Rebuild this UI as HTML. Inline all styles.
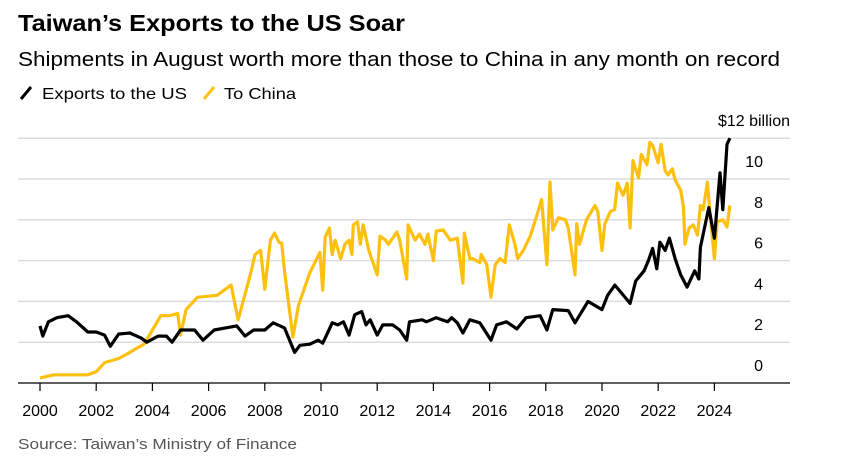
<!DOCTYPE html>
<html><head><meta charset="utf-8"><style>
body{margin:0;background:#fff;font-family:"Liberation Sans",sans-serif;}
#wrap{position:relative;width:847px;height:469px;overflow:hidden;}
</style></head><body>
<div id="wrap">
<svg id="chart" width="847" height="469" xmlns="http://www.w3.org/2000/svg">
<text x="18" y="31" font-size="23" font-weight="bold" fill="#000" textLength="387" lengthAdjust="spacingAndGlyphs">Taiwan’s Exports to the US Soar</text>
<text x="18" y="66" font-size="20" fill="#000" textLength="762" lengthAdjust="spacingAndGlyphs">Shipments in August worth more than those to China in any month on record</text>
<g>
<g><line x1="21" y1="99" x2="31" y2="87" stroke="#000" stroke-width="3"/><text x="42" y="99" font-size="16" fill="#000" textLength="145" lengthAdjust="spacingAndGlyphs">Exports to the US</text></g>
<g><line x1="204" y1="99" x2="214" y2="87" stroke="#fdc010" stroke-width="3"/><text x="224" y="99" font-size="16" fill="#000" textLength="72" lengthAdjust="spacingAndGlyphs">To China</text></g>
</g>
<g id="grid"></g>
<g id="series"></g>
<g id="xaxis"></g>
<text x="18" y="449" font-size="15" fill="#555" textLength="279" lengthAdjust="spacingAndGlyphs">Source: Taiwan’s Ministry of Finance</text>
</svg>
</div>
<script>
const yTicks = [0, 2, 4, 6, 8, 10, 12];
const xTicks = [2000, 2002, 2004, 2006, 2008, 2010, 2012, 2014, 2016, 2018, 2020, 2022, 2024];
const usDates = [2000.0,2000.1,2000.3,2000.6,2001.0,2001.3,2001.7,2002.0,2002.3,2002.5,2002.8,2003.2,2003.6,2003.8,2004.2,2004.5,2004.7,2005.0,2005.5,2005.8,2006.2,2006.6,2007.0,2007.3,2007.6,2008.0,2008.3,2008.7,2009.06,2009.25,2009.6,2009.9,2010.06,2010.2,2010.4,2010.6,2010.8,2011.0,2011.2,2011.45,2011.6,2011.75,2012.0,2012.2,2012.55,2012.8,2013.05,2013.15,2013.6,2013.75,2014.1,2014.5,2014.65,2014.85,2015.05,2015.3,2015.65,2016.05,2016.25,2016.6,2016.97,2017.3,2017.8,2018.04,2018.25,2018.8,2019.04,2019.5,2020.0,2020.2,2020.46,2021.0,2021.2,2021.5,2021.65,2021.8,2021.95,2022.06,2022.25,2022.4,2022.6,2022.8,2023.03,2023.3,2023.45,2023.5,2023.8,2024.0,2024.2,2024.3,2024.45,2024.55];
const usValues = [2.8,2.3,3.0,3.2,3.3,3.0,2.5,2.5,2.35,1.8,2.4,2.45,2.2,2.0,2.3,2.3,2.0,2.6,2.6,2.1,2.6,2.7,2.8,2.3,2.6,2.6,2.95,2.7,1.5,1.85,1.9,2.1,1.95,2.35,2.95,2.85,3.0,2.35,3.35,3.5,2.85,3.1,2.35,2.85,2.85,2.6,2.1,3.0,3.1,3.0,3.2,3.0,3.2,2.95,2.45,3.1,2.95,2.1,2.85,3.0,2.65,3.2,3.3,2.6,3.6,3.55,2.95,4.0,3.6,4.3,4.8,3.9,5.0,5.5,6.0,6.6,5.6,6.9,6.5,7.1,6.1,5.3,4.7,5.5,5.1,6.65,8.6,7.1,10.3,8.5,11.7,12.0];
const cnDates = [2000.0,2000.5,2001.0,2001.7,2002.0,2002.3,2002.8,2003.2,2003.5,2003.7,2004.0,2004.3,2004.6,2004.9,2005.0,2005.2,2005.6,2006.3,2006.8,2007.05,2007.5,2007.65,2007.85,2008.0,2008.2,2008.35,2008.5,2008.6,2008.7,2009.0,2009.2,2009.45,2009.6,2009.96,2010.06,2010.15,2010.3,2010.4,2010.5,2010.7,2010.85,2011.0,2011.1,2011.15,2011.3,2011.4,2011.5,2011.7,2012.0,2012.1,2012.3,2012.4,2012.7,2012.8,2013.05,2013.1,2013.35,2013.5,2013.7,2013.8,2014.0,2014.1,2014.35,2014.6,2014.85,2015.05,2015.1,2015.3,2015.4,2015.65,2015.7,2015.9,2016.05,2016.2,2016.37,2016.55,2016.7,2016.9,2017.0,2017.2,2017.45,2017.7,2017.85,2018.04,2018.15,2018.25,2018.45,2018.7,2018.8,2019.04,2019.1,2019.2,2019.45,2019.75,2019.85,2020.0,2020.1,2020.3,2020.45,2020.55,2020.75,2020.9,2021.0,2021.1,2021.3,2021.4,2021.6,2021.7,2021.8,2022.0,2022.1,2022.25,2022.35,2022.5,2022.6,2022.8,2022.9,2022.95,2023.1,2023.25,2023.4,2023.5,2023.6,2023.75,2023.85,2024.0,2024.1,2024.3,2024.45,2024.55];
const cnValues = [0.25,0.4,0.4,0.4,0.55,1.0,1.2,1.5,1.75,1.9,2.6,3.3,3.3,3.4,2.35,3.6,4.2,4.3,4.8,3.1,5.4,6.3,6.5,4.6,7.0,7.35,6.9,6.85,5.5,2.25,3.8,4.8,5.4,6.4,4.55,7.15,7.6,6.3,7.0,6.1,6.8,7.0,6.3,7.75,7.9,6.8,7.75,6.5,5.3,7.2,7.0,6.8,7.4,7.0,5.1,7.75,7.0,7.3,6.8,7.3,6.0,7.45,7.5,7.0,7.1,4.9,7.35,6.1,6.1,5.9,6.3,5.8,4.2,5.8,6.1,5.9,7.75,6.8,6.1,6.5,7.2,8.3,9.0,5.8,9.85,7.5,8.1,8.0,7.6,5.3,7.8,6.8,8.0,8.7,8.4,6.5,7.8,8.4,8.5,9.8,9.2,9.8,7.6,10.9,10.05,11.2,10.7,11.8,11.65,10.8,11.7,10.4,10.2,10.5,9.95,9.45,8.6,6.8,7.6,7.75,7.25,8.7,8.5,9.85,8.2,6.1,7.9,8.0,7.65,8.7];

const NS = "http://www.w3.org/2000/svg";
const X0 = 18, X1 = 790;
function xScale(yr){ return 40 + (yr - 2000) * 28.1; }
function yScale(v){ return 383 - v * 20.4; }
function mk(tag, attrs, parent){ const e = document.createElementNS(NS, tag); for (const k in attrs) e.setAttribute(k, attrs[k]); parent.appendChild(e); return e; }

const grid = document.getElementById('grid');
yTicks.forEach(t => {
  if (t > 0) {
    const l = mk('line', {x1: X0, x2: X1, y1: yScale(t), y2: yScale(t), stroke: '#dcdcdc', 'stroke-width': 1.5}, grid);
    
    
  }
  const lab = mk('text', {x: t === 12 ? 790 : 763, y: yScale(t) - 12, 'font-size': 16, fill: '#000', 'text-anchor': 'end'}, grid);
  lab.textContent = t === 12 ? '$12 billion' : String(t);
  
  
});

const series = document.getElementById('series');
function path(dates, vals){ return dates.map((d, i) => (i ? 'L' : 'M') + xScale(d).toFixed(1) + ',' + yScale(vals[i]).toFixed(1)).join(''); }
const cn = mk('path', {d: path(cnDates, cnValues), fill: 'none', stroke: '#fdc010', 'stroke-width': 3.2, 'stroke-linejoin': 'round'}, series);


const us = mk('path', {d: path(usDates, usValues), fill: 'none', stroke: '#000', 'stroke-width': 3.2, 'stroke-linejoin': 'round'}, series);



const xa = document.getElementById('xaxis');
const axl = mk('line', {x1: X0, x2: X1, y1: 383, y2: 383, stroke: '#000', 'stroke-width': 1.2}, xa);


xTicks.forEach(t => {
  const tk = mk('line', {x1: xScale(t), x2: xScale(t), y1: 383, y2: 391, stroke: '#000', 'stroke-width': 1.2}, xa);
  
  
  const lab = mk('text', {x: xScale(t), y: 416, 'font-size': 16, fill: '#000', 'text-anchor': 'middle'}, xa);
  lab.textContent = String(t);
  
  
});
</script>
</body></html>
